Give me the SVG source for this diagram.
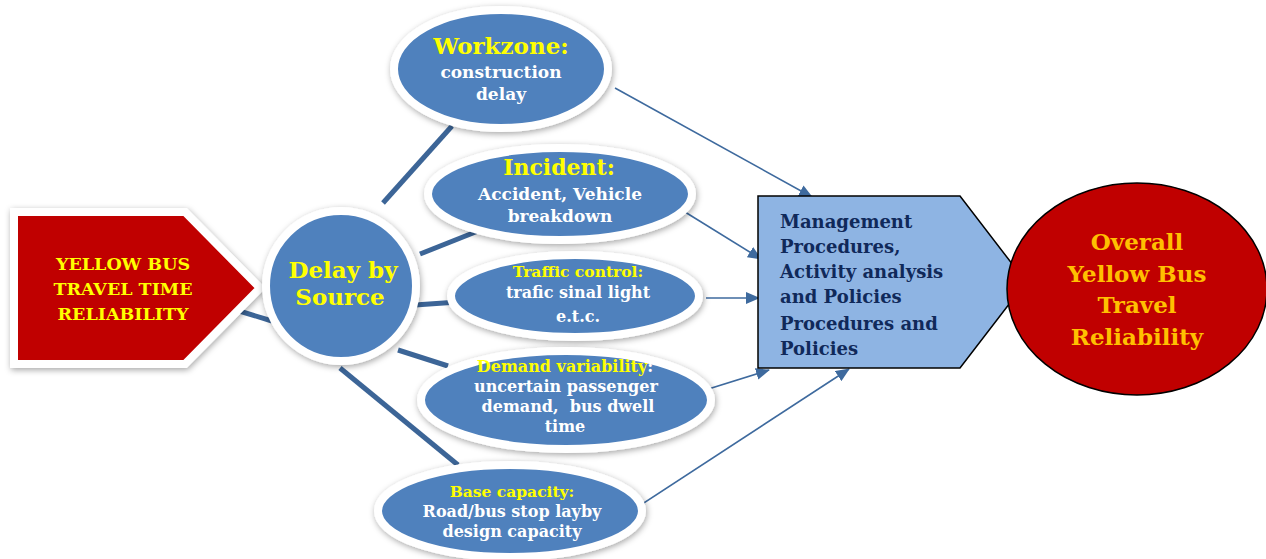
<svg xmlns="http://www.w3.org/2000/svg" width="1266" height="559" viewBox="0 0 1266 559">
<defs>
<filter id="sh" x="-20%" y="-20%" width="140%" height="140%">
<feDropShadow dx="1" dy="2" stdDeviation="3" flood-color="#000" flood-opacity="0.35"/>
</filter>
<marker id="ah" markerWidth="14" markerHeight="12" refX="13" refY="6" orient="auto" markerUnits="userSpaceOnUse" viewBox="0 0 14 12">
<path d="M0,0 L14,6 L0,12 z" fill="#3E6A9E"/>
</marker>
<style>
.bub{fill:#4F81BD;stroke:#fff;stroke-width:8;filter:url(#sh)}
.t{font-family:"DejaVu Serif","Liberation Serif",serif;font-weight:bold;text-anchor:middle}
.y{fill:#FFFF00}
.w{fill:#fff}
.thick{stroke:#3C6597;stroke-width:5;fill:none}
.arr{stroke:#3E6A9E;stroke-width:1.6;fill:none;marker-end:url(#ah)}
</style>
</defs>
<rect width="1266" height="559" fill="#fff"/>
<g id="connectors">
<line class="thick" x1="236" y1="310" x2="272" y2="321"/>
<line class="thick" x1="383" y1="203" x2="452" y2="126"/>
<line class="thick" x1="420" y1="254" x2="478" y2="231"/>
<line class="thick" x1="415" y1="305" x2="458" y2="302"/>
<line class="thick" x1="398" y1="350" x2="448" y2="366"/>
<line class="thick" x1="340" y1="368" x2="458" y2="465"/>
<line class="arr" x1="615" y1="88" x2="812" y2="197"/>
<line class="arr" x1="685" y1="212" x2="761" y2="259"/>
<line class="arr" x1="706" y1="298" x2="759" y2="298"/>
<line class="arr" x1="686" y1="396" x2="769" y2="370"/>
<line class="arr" x1="630" y1="512" x2="849" y2="369"/>
</g>
<g id="source">
<polygon points="14,212 185,212 260,288 185,364 14,364" fill="#C00000" stroke="#fff" stroke-width="8" filter="url(#sh)"/>
<text class="t y" font-size="17.5" x="123" y="270">YELLOW BUS</text>
<text class="t y" font-size="17.5" x="123" y="295">TRAVEL TIME</text>
<text class="t y" font-size="17.5" x="123" y="320">RELIABILITY</text>
</g>
<g id="delay">
<circle class="bub" cx="341" cy="286" r="75"/>
<text class="t y" font-size="23" x="343" y="278">Delay by</text>
<text class="t y" font-size="23" x="340" y="305">Source</text>
</g>
<g id="workzone">
<ellipse class="bub" cx="501" cy="69" rx="107" ry="59"/>
<text class="t y" font-size="23" x="501" y="54">Workzone:</text>
<text class="t w" font-size="17" x="501" y="78">construction</text>
<text class="t w" font-size="17" x="501" y="100">delay</text>
</g>
<g id="incident">
<ellipse class="bub" cx="560" cy="194" rx="132" ry="46"/>
<text class="t y" font-size="22" x="559" y="175">Incident:</text>
<text class="t w" font-size="17" x="560" y="200">Accident, Vehicle</text>
<text class="t w" font-size="17" x="560" y="222">breakdown</text>
</g>
<g id="traffic">
<ellipse class="bub" cx="575" cy="296" rx="124" ry="41"/>
<text class="t y" font-size="15.5" x="578" y="277">Traffic control:</text>
<text class="t w" font-size="16" x="578" y="298">trafic sinal light</text>
<text class="t w" font-size="16" x="578" y="322">e.t.c.</text>
</g>
<g id="demand">
<ellipse class="bub" cx="566" cy="400" rx="145" ry="49"/>
<text class="t" font-size="16" x="565" y="372"><tspan class="y">Demand variability</tspan><tspan class="w">:</tspan></text>
<text class="t w" font-size="16" x="566" y="392">uncertain passenger</text>
<text class="t w" font-size="16" x="568" y="412" xml:space="preserve">demand,  bus dwell</text>
<text class="t w" font-size="16" x="565" y="432">time</text>
</g>
<g id="base">
<ellipse class="bub" cx="510" cy="511" rx="132" ry="46"/>
<text class="t y" font-size="15.5" x="512" y="497">Base capacity:</text>
<text class="t w" font-size="16" x="512" y="517">Road/bus stop layby</text>
<text class="t w" font-size="16" x="512" y="537">design capacity</text>
</g>
<g id="management">
<polygon points="758,196 960,196 1026,282 960,368 758,368" fill="#8EB4E3" stroke="#000" stroke-width="1.5"/>
<g font-family="DejaVu Serif, Liberation Serif, serif" font-weight="bold" font-size="18" fill="#10295A">
<text x="780" y="228">Management</text>
<text x="780" y="253">Procedures,</text>
<text x="780" y="278">Activity analysis</text>
<text x="780" y="303">and Policies</text>
<text x="780" y="330">Procedures and</text>
<text x="780" y="355">Policies</text>
</g>
</g>
<g id="overall">
<ellipse cx="1137" cy="289" rx="130" ry="106" fill="#C00000" stroke="#000" stroke-width="1.5"/>
<g class="t" font-size="23" fill="#FFC000">
<text x="1137" y="250">Overall</text>
<text x="1137" y="282">Yellow Bus</text>
<text x="1137" y="313">Travel</text>
<text x="1137" y="345">Reliability</text>
</g>
</g>
</svg>
